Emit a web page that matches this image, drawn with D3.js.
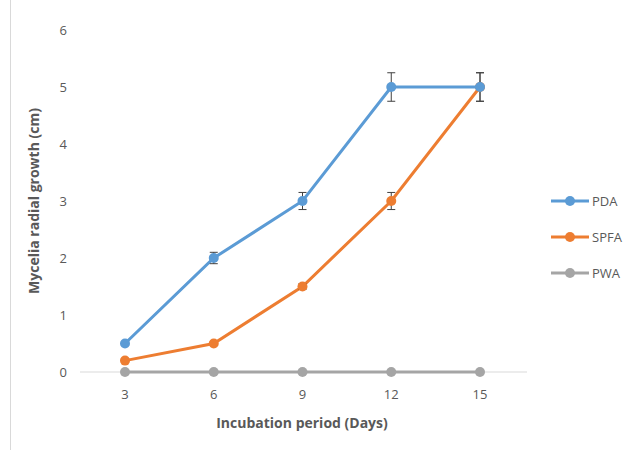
<!doctype html>
<html><head>
<script src="https://cdn.jsdelivr.net/npm/d3@7"></script>
<style>body{margin:0;background:#fff}</style>
</head><body>
<div id="viz"></div>
<script>
var days = ['3', '6', '9', '12', '15'];
var pda = [0.5, 2, 3, 5, 5];
var pdaErr = [0, 0.1, 0.15, 0.25, 0.25];
var spfa = [0.2, 0.5, 1.5, 3, 5];
var spfaErr = [0, 0, 0.05, 0.15, 0.25];
var pwa = [0, 0, 0, 0, 0];
var pwaErr = [0, 0, 0, 0, 0];
var yTicks = [0, 1, 2, 3, 4, 5, 6];

var series = [
  {name: 'PDA', values: pda, err: pdaErr, color: '#5b9bd5'},
  {name: 'SPFA', values: spfa, err: spfaErr, color: '#ed7d31'},
  {name: 'PWA', values: pwa, err: pwaErr, color: '#a5a5a5'}
];

var svg = d3.select('#viz').append('svg').attr('width', 624).attr('height', 450)
  .style('font-family', '"Open Sans", sans-serif');

svg.append('line').attr('x1', 10.5).attr('x2', 10.5).attr('y1', 0).attr('y2', 450)
  .style('stroke', '#d9d9d9');

var x = d3.scalePoint().domain(days).range([125, 480]).padding(0);
var y = d3.scaleLinear().domain([0, 6]).range([372, 30]);

svg.append('line').attr('x1', 80).attr('x2', 527).attr('y1', y(0)).attr('y2', y(0))
  .style('stroke', '#d9d9d9');

svg.selectAll('.yt').data(yTicks).enter().append('text')
  .attr('x', 67).attr('y', function(d) { return y(d) + 5; })
  .attr('text-anchor', 'end').style('font-size', '13px').style('fill', '#595959')
  .text(function(d) { return d; });

svg.selectAll('.xt').data(days).enter().append('text')
  .attr('x', function(d) { return x(d); }).attr('y', 399)
  .attr('text-anchor', 'middle').style('font-size', '13px').style('fill', '#595959')
  .text(function(d) { return d; });

svg.append('text').attr('x', 302).attr('y', 428).attr('text-anchor', 'middle')
  .style('font-size', '14px').style('font-weight', 'bold').style('fill', '#595959')
  .text('Incubation period (Days)');
svg.append('text').attr('transform', 'translate(39,201) rotate(-90)').attr('text-anchor', 'middle')
  .style('font-size', '14px').style('font-weight', 'bold').style('fill', '#595959')
  .text('Mycelia radial growth (cm)');

var line = d3.line().x(function(d, i) { return x(days[i]); }).y(function(d) { return y(d); });

series.slice().reverse().forEach(function(s) {
  var g = svg.append('g');
  g.append('path').datum(s.values).attr('d', line)
    .style('fill', 'none').style('stroke', s.color).style('stroke-width', 3);
  s.values.forEach(function(v, i) {
    var e = s.err[i];
    if (e > 0) {
      var cx = x(days[i]);
      g.append('line').attr('x1', cx).attr('x2', cx).attr('y1', y(v - e)).attr('y2', y(v + e))
        .style('stroke', '#404040').style('stroke-width', 1);
      [v - e, v + e].forEach(function(t) {
        g.append('line').attr('x1', cx - 4).attr('x2', cx + 4).attr('y1', y(t)).attr('y2', y(t))
          .style('stroke', '#404040').style('stroke-width', 1);
      });
    }
  });
  g.selectAll('circle').data(s.values).enter().append('circle')
    .attr('cx', function(d, i) { return x(days[i]); }).attr('cy', function(d) { return y(d); })
    .attr('r', 5).style('fill', s.color);
});

var leg = svg.selectAll('.leg').data(series).enter().append('g')
  .attr('transform', function(d, i) { return 'translate(551,' + (201 + i * 36) + ')'; });
leg.append('line').attr('x1', 0).attr('x2', 38).style('stroke', function(d) { return d.color; })
  .style('stroke-width', 3);
leg.append('circle').attr('cx', 19).attr('r', 5).style('fill', function(d) { return d.color; });
leg.append('text').attr('x', 41).attr('y', 5).style('font-size', '13px').style('fill', '#595959')
  .text(function(d) { return d.name; });
</script>
</body></html>
